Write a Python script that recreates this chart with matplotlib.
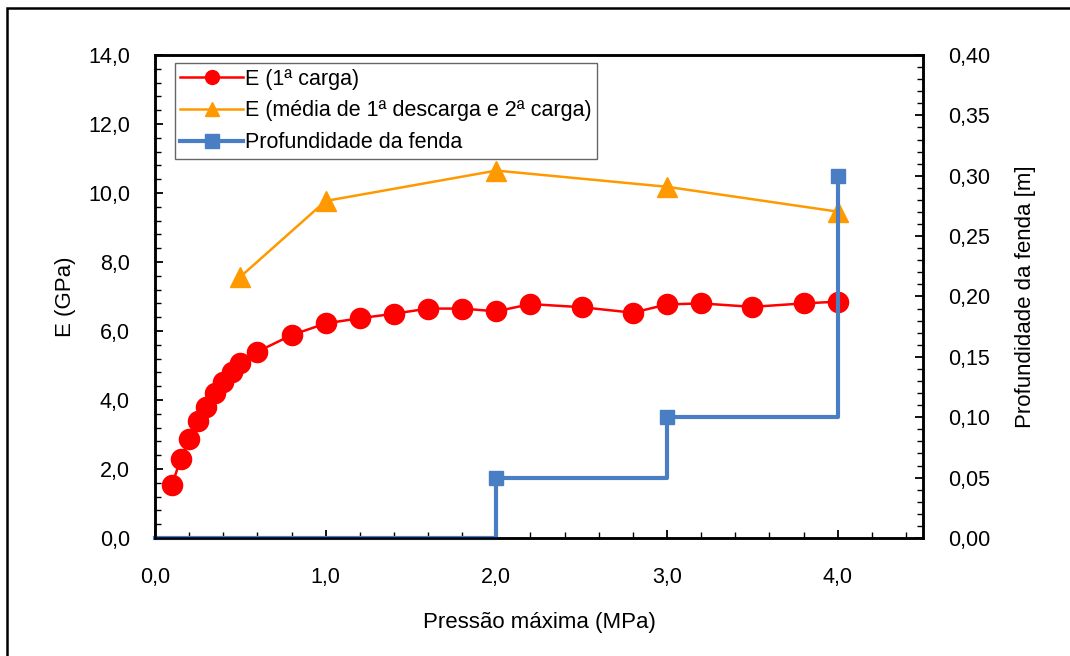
import matplotlib
matplotlib.use("Agg")
import matplotlib.pyplot as plt
from matplotlib.ticker import MultipleLocator, FuncFormatter
from matplotlib.patches import Rectangle

plt.rcParams['font.family'] = ['Liberation Sans', 'DejaVu Sans']

# E na 1a carga
p_carga = [0.1, 0.15, 0.2, 0.25, 0.3, 0.35, 0.4, 0.45, 0.5, 0.6, 0.8, 1.0, 1.2, 1.4,
           1.6, 1.8, 2.0, 2.2, 2.5, 2.8, 3.0, 3.2, 3.5, 3.8, 4.0]
e_carga = [1.54, 2.29, 2.87, 3.38, 3.80, 4.19, 4.53, 4.82, 5.08, 5.40, 5.88, 6.22, 6.37, 6.50,
           6.65, 6.65, 6.57, 6.78, 6.69, 6.53, 6.77, 6.80, 6.70, 6.80, 6.85]

# E medio (1a descarga e 2a carga)
p_media = [0.5, 1.0, 2.0, 3.0, 4.0]
e_media = [7.57, 9.77, 10.65, 10.18, 9.46]

# profundidade da fenda
p_fenda = [0.0, 2.0, 3.0, 4.0]
prof_fenda = [0.0, 0.05, 0.10, 0.30]

fig = plt.figure(figsize=(10.7, 6.56), dpi=100)
ax = fig.add_axes([155 / 1070, 1 - 538 / 656, 768 / 1070, 483 / 656])
ax2 = ax.twinx()

l1, = ax.plot(p_carga, e_carga, color='#FF0000', lw=1.8, marker='o', ms=14.5,
              label='E (1ª carga)')
l2, = ax.plot(p_media, e_media, color='#FF9900', lw=1.8, marker='^', ms=14.5,
              label='E (média de 1ª descarga e 2ª carga)')
l3, = ax2.plot(p_fenda, prof_fenda, color='#4A7EC4', lw=3, marker='s', ms=10.5,
               drawstyle='steps-post', markevery=[1, 2, 3], clip_on=False,
               label='Profundidade da fenda')

ax.set_xlim(0, 4.5)
ax.set_ylim(0, 14)
ax2.set_ylim(0, 0.40)

virg = lambda d: FuncFormatter(lambda v, pos: f"{v:.{d}f}".replace('.', ','))
ax.xaxis.set_major_locator(MultipleLocator(1.0))
ax.xaxis.set_minor_locator(MultipleLocator(0.2))
ax.yaxis.set_major_locator(MultipleLocator(2.0))
ax.yaxis.set_minor_locator(MultipleLocator(0.4))
ax2.yaxis.set_major_locator(MultipleLocator(0.05))
ax2.yaxis.set_minor_locator(MultipleLocator(0.01))
ax.xaxis.set_major_formatter(virg(1))
ax.yaxis.set_major_formatter(virg(1))
ax2.yaxis.set_major_formatter(virg(2))

for a in (ax, ax2):
    for s in a.spines.values():
        s.set_linewidth(1.8)
    a.tick_params(which='major', direction='in', length=6, width=1.3,
                  labelsize=15.5, pad=18)
    a.tick_params(which='minor', direction='in', length=4, width=1.0)
ax.tick_params(axis='x', pad=21)

ax.set_xlabel('Pressão máxima (MPa)', fontsize=16, labelpad=17)
ax.set_ylabel('E (GPa)', fontsize=16, labelpad=9)
ax2.set_ylabel('Profundidade da fenda [m]', fontsize=16, labelpad=18)

leg = ax2.legend(handles=[l1, l2, l3], loc='upper left', bbox_to_anchor=(0.026, 0.983),
                 fontsize=15.5, frameon=True, fancybox=False, borderpad=0.25,
                 labelspacing=0.5, handlelength=2.9, handletextpad=0.1,
                 borderaxespad=0)
leg.get_frame().set_edgecolor('#404040')
leg.get_frame().set_linewidth(1.0)
for h in leg.legend_handles:
    h.set_markersize(10)

# moldura da figura
fig.patches.append(Rectangle((7 / 1070, -0.05), 1.1, 1 - 8 / 656 + 0.05,
                             transform=fig.transFigure, fill=False,
                             edgecolor='black', lw=1.8))

fig.savefig('out.png', dpi=100)
